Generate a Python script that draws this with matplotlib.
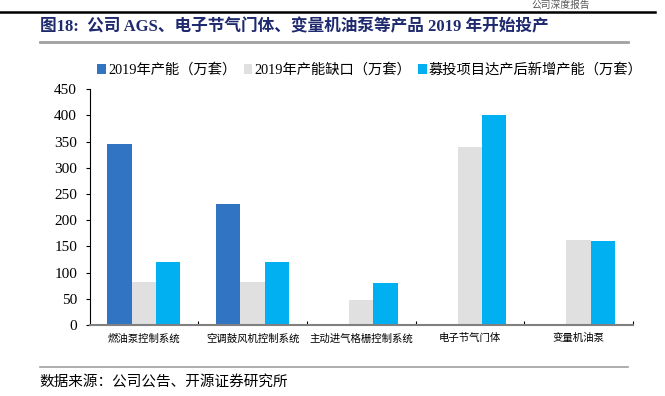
import numpy as np
import matplotlib.pyplot as plt
from matplotlib.lines import Line2D

plt.rcParams['font.family'] = ['Liberation Serif', 'Noto Sans CJK SC']

# data
categories = ['燃油泵控制系统', '空调鼓风机控制系统', '主动进气格栅控制系统', '电子节气门体', '变量机油泵']
cap_2019 = [345, 230, 0, 0, 0]
gap_2019 = [83, 82, 48, 340, 162]
new_cap = [120, 120, 80, 400, 160]
series_names = ['2019年产能（万套）', '2019年产能缺口（万套）', '募投项目达产后新增产能（万套）']
colors = ['#3174C4', '#E0E0E0', '#00B0F0']
yticks = [0, 50, 100, 150, 200, 250, 300, 350, 400, 450]

fig = plt.figure(figsize=(6.65, 3.96), dpi=100)
ax = fig.add_axes([0.1347, 0.179, 0.817, 0.596])

x = np.arange(len(categories))
w = 0.224
for i, vals in enumerate([cap_2019, gap_2019, new_cap]):
    ax.bar(x + (i - 1) * w, vals, w, color=colors[i], label=series_names[i], zorder=2)

ax.set_xlim(-0.5, 4.5)
ax.set_ylim(0, 450)
ax.set_yticks(yticks)
ax.tick_params(axis='y', labelsize=11, length=3, width=0.8, pad=6)
ax.set_xticks(x)
ax.set_xticklabels(categories, fontsize=7.5, family=['Noto Sans CJK SC'])
ax.tick_params(axis='x', length=0, pad=6)
ax.set_xticks(np.arange(0.5, 4.6, 1), minor=True)
ax.tick_params(axis='x', which='minor', length=3, direction='in', width=0.8)

for s in ['top', 'right']:
    ax.spines[s].set_visible(False)
ax.spines['left'].set_linewidth(0.8)
ax.spines['bottom'].set_color('#808080')
ax.spines['bottom'].set_linewidth(1.5)

fig.legend(loc='center left', bbox_to_anchor=(0.138, 0.823), ncol=3, frameon=False,
           fontsize=10.3, handlelength=0.6, handleheight=0.6, handletextpad=0.15,
           columnspacing=0.5, borderaxespad=0)

# page decorations
fig.add_artist(Line2D([0.0, 0.985], [0.97, 0.97], color='black', lw=1.8))
fig.text(0.80, 0.975, '公司深度报告', fontsize=7, color='#555555', va='bottom',
         family=['Noto Sans CJK SC'])
fig.text(0.06, 0.932, '图18:  公司 AGS、电子节气门体、变量机油泵等产品 2019 年开始投产',
         fontsize=12, fontweight='bold', color='#1F2A6E', va='center')
fig.add_artist(Line2D([0.06, 0.945], [0.893, 0.893], color='#A0A0A0', lw=2))
fig.add_artist(Line2D([0.06, 0.945], [0.072, 0.072], color='#A0A0A0', lw=1.2))
fig.text(0.06, 0.035, '数据来源：公司公告、开源证券研究所', fontsize=10.5, va='center')

fig.savefig('out.png', dpi=100)
